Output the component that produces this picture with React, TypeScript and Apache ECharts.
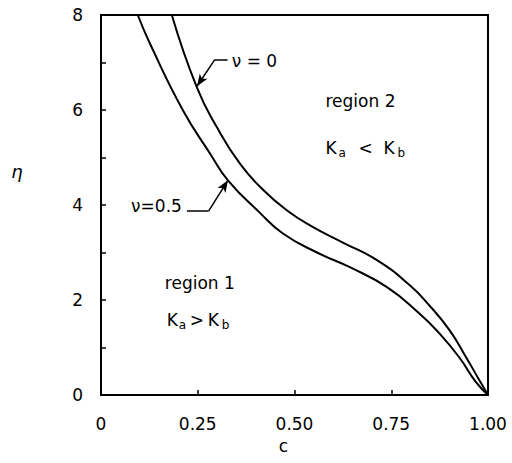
import React, { useEffect, useRef } from "react";
import * as echarts from "echarts";

// ν = 0 curve (c, η)
const nu0C = [0.183, 0.248, 0.3, 0.36, 0.42, 0.48, 0.54, 0.625, 0.713, 0.798, 0.848, 0.9, 0.943, 0.977, 1.0];
const nu0Eta = [8.0, 6.47, 5.63, 4.86, 4.31, 3.89, 3.57, 3.21, 2.84, 2.31, 1.89, 1.37, 0.8, 0.32, 0];
// ν = 0.5 curve (c, η)
const nu05C = [0.095, 0.127, 0.212, 0.282, 0.328, 0.41, 0.47, 0.558, 0.643, 0.739, 0.822, 0.874, 0.925, 0.969, 1.0];
const nu05Eta = [8.0, 7.39, 5.99, 5.08, 4.52, 3.84, 3.4, 3.0, 2.69, 2.27, 1.72, 1.3, 0.8, 0.27, 0];

const xTicks = [0, 0.25, 0.5, 0.75, 1.0];
const yLabelTicks = [0, 2, 4, 6, 8];

const FONT = "DejaVu Sans";

export default function App() {
  const ref = useRef<HTMLDivElement>(null);
  useEffect(() => {
    const chart = echarts.init(ref.current!, null, { renderer: "svg" });
    const lineStyle = { color: "#000", width: 2 };
    const leader = (a: number[], b: number[], arrow: boolean) => [
      { coord: a, symbol: "none" },
      { coord: b, symbol: arrow ? "arrow" : "none", symbolSize: [7, 12] },
    ];
    chart.setOption({
      animation: false,
      backgroundColor: "#fff",
      grid: { left: 101, right: 24, top: 15, bottom: 68, show: true, borderColor: "#000", borderWidth: 2 },
      xAxis: {
        type: "value",
        min: 0,
        max: 1,
        interval: 0.25,
        name: "c",
        nameLocation: "middle",
        nameGap: 42,
        nameTextStyle: { fontFamily: FONT, fontSize: 17, color: "#000", padding: [0, 22, 0, 0] },
        axisLine: { show: true, lineStyle: { color: "#000", width: 2 } },
        axisTick: { show: true, inside: true, length: 5, lineStyle: { color: "#000", width: 1.5 } },
        splitLine: { show: false },
        axisLabel: {
          margin: 20,
          fontFamily: FONT,
          fontSize: 17,
          color: "#000",
          formatter: (v: number) => (xTicks.includes(v) ? (v === 0 ? "0" : v.toFixed(2)) : ""),
        },
      },
      yAxis: {
        type: "value",
        min: 0,
        max: 8,
        interval: 1,
        axisLine: { show: true, lineStyle: { color: "#000", width: 2 } },
        axisTick: { show: true, inside: true, length: 5, lineStyle: { color: "#000", width: 1.5 } },
        splitLine: { show: false },
        axisLabel: {
          margin: 18,
          fontFamily: FONT,
          fontSize: 17,
          color: "#000",
          formatter: (v: number) => (yLabelTicks.includes(v) ? String(v) : ""),
        },
      },
      series: [
        {
          type: "line",
          name: "ν = 0",
          data: nu0C.map((c, i) => [c, nu0Eta[i]]),
          smooth: 0.5,
          showSymbol: false,
          lineStyle,
          markLine: {
            silent: true,
            label: { show: false },
            lineStyle: { color: "#000", width: 1.5, type: "solid" },
            data: [
              leader([0.294, 7.06], [0.248, 6.5], true),
              leader([0.294, 7.06], [0.327, 7.06], false),
            ],
          },
        },
        {
          type: "line",
          name: "ν = 0.5",
          data: nu05C.map((c, i) => [c, nu05Eta[i]]),
          smooth: 0.5,
          showSymbol: false,
          lineStyle,
          markLine: {
            silent: true,
            label: { show: false },
            lineStyle: { color: "#000", width: 1.5, type: "solid" },
            data: [
              leader([0.278, 3.87], [0.328, 4.52], true),
              leader([0.222, 3.87], [0.278, 3.87], false),
            ],
          },
        },
      ],
    });

    const px = (c: number, e: number) => chart.convertToPixel({ gridIndex: 0 }, [c, e]) as number[];
    const txt = (x: number, y: number, text: string, size: number, align = "left", extra: any = {}) => ({
      type: "text",
      x,
      y,
      style: { text, fontFamily: FONT, fontSize: size, fill: "#000", align, verticalAlign: "middle", ...extra },
    });
    const kGroup = (c: number, e: number, op: string, offs: number[]) => {
      const [x, y] = px(c, e);
      return [
        txt(x + offs[0], y, "K", 17),
        txt(x + offs[1], y + 5, "a", 12),
        txt(x + offs[2], y, op, 17),
        txt(x + offs[3], y, "K", 17),
        txt(x + offs[4], y + 5, "b", 12),
      ];
    };
    const p1 = px(0.338, 7.04);
    const p2 = px(0.209, 3.97);
    const r2 = px(0.58, 6.2);
    const r1 = px(0.165, 2.35);
    chart.setOption({
      graphic: [
        txt(17, 171, "η", 18, "center", { fontStyle: "italic" }),
        txt(p1[0], p1[1], "ν = 0", 17),
        txt(p2[0], p2[1], "ν=0.5", 17, "right"),
        txt(r2[0], r2[1], "region 2", 17),
        txt(r1[0], r1[1], "region 1", 17),
        ...kGroup(0.58, 5.19, "<", [0, 13, 33, 58, 72]),
        ...kGroup(0.17, 1.58, ">", [0, 12, 23, 41, 55]),
      ],
    });
    return () => chart.dispose();
  }, []);
  return <div ref={ref} style={{ width: 512, height: 463, position: "fixed", left: 0, top: 0 }} />;
}
